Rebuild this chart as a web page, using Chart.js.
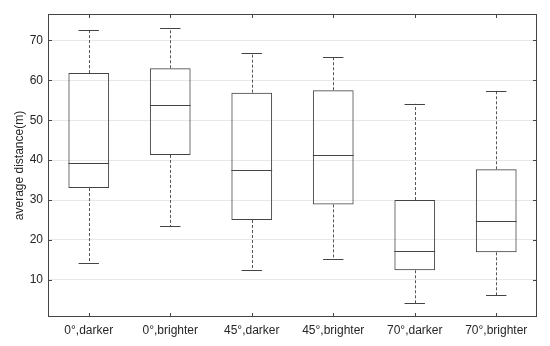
<!DOCTYPE html>
<html>
<head>
<meta charset="utf-8">
<script src="https://cdn.jsdelivr.net/npm/chart.js@4.4.0/dist/chart.umd.min.js"></script>
<style>
  html, body { margin: 0; padding: 0; background: #fff; }
  #wrap { width: 550px; height: 346px; }
</style>
</head>
<body>
<div id="wrap"><canvas id="boxChart"></canvas></div>
<script>
// data
const categories = ['0°,darker', '0°,brighter', '45°,darker', '45°,brighter', '70°,darker', '70°,brighter'];
const whiskerLow = [14.2, 23.4, 12.4, 15.2, 4.2, 6.2];
const q1 = [33.0, 41.3, 25.0, 28.9, 12.4, 16.9];
const median = [39.4, 53.8, 37.4, 41.4, 17.2, 24.8];
const q3 = [61.8, 63.0, 56.9, 57.5, 30.0, 37.7];
const whiskerHigh = [72.5, 73.0, 66.8, 65.8, 54.1, 57.4];
const yTicks = [10, 20, 30, 40, 50, 60, 70];

const boxes = categories.map((c, i) => [q1[i], q3[i]]);

// whiskers, caps, medians, frame and inward ticks
const boxPlugin = {
    id: 'boxExtras',
    afterDatasetsDraw(chart) {
        const ctx = chart.ctx;
        const x = chart.scales.x;
        const y = chart.scales.y;
        const meta = chart.getDatasetMeta(0);
        ctx.save();
        meta.data.forEach((bar, i) => {
            const cx = bar.x;
            const w = bar.width;
            const yTop = y.getPixelForValue(q3[i]);
            const yBot = y.getPixelForValue(q1[i]);
            const yHi = y.getPixelForValue(whiskerHigh[i]);
            const yLo = y.getPixelForValue(whiskerLow[i]);
            const yMed = y.getPixelForValue(median[i]);

            // dashed whiskers
            ctx.strokeStyle = '#555';
            ctx.lineWidth = 1;
            ctx.setLineDash([3, 2]);
            ctx.beginPath();
            ctx.moveTo(Math.round(cx) + 0.5, yTop);
            ctx.lineTo(Math.round(cx) + 0.5, yHi);
            ctx.moveTo(Math.round(cx) + 0.5, yBot);
            ctx.lineTo(Math.round(cx) + 0.5, yLo);
            ctx.stroke();

            // caps
            ctx.setLineDash([]);
            ctx.strokeStyle = '#444';
            ctx.beginPath();
            ctx.moveTo(cx - w / 4, Math.round(yHi) + 0.5);
            ctx.lineTo(cx + w / 4, Math.round(yHi) + 0.5);
            ctx.moveTo(cx - w / 4, Math.round(yLo) + 0.5);
            ctx.lineTo(cx + w / 4, Math.round(yLo) + 0.5);
            ctx.stroke();

            // median
            ctx.strokeStyle = '#444';
            ctx.beginPath();
            ctx.moveTo(cx - w / 2, Math.round(yMed) + 0.5);
            ctx.lineTo(cx + w / 2, Math.round(yMed) + 0.5);
            ctx.stroke();
        });

        // frame
        const a = chart.chartArea;
        ctx.strokeStyle = '#444';
        ctx.lineWidth = 1;
        ctx.strokeRect(Math.round(a.left) + 0.5, Math.round(a.top) + 0.5,
            Math.round(a.right - a.left) - 1, Math.round(a.bottom - a.top) - 1);

        // inward ticks
        ctx.beginPath();
        categories.forEach((c, i) => {
            const px = Math.round(x.getPixelForValue(i)) + 0.5;
            ctx.moveTo(px, a.bottom);
            ctx.lineTo(px, a.bottom - 4);
            ctx.moveTo(px, a.top);
            ctx.lineTo(px, a.top + 4);
        });
        yTicks.forEach(v => {
            const py = Math.round(y.getPixelForValue(v)) + 0.5;
            ctx.moveTo(a.left, py);
            ctx.lineTo(a.left + 4, py);
            ctx.moveTo(a.right, py);
            ctx.lineTo(a.right - 4, py);
        });
        ctx.stroke();
        ctx.restore();
    }
};

document.addEventListener('DOMContentLoaded', function () {
    let ctx = document.getElementById('boxChart').getContext('2d');
    new Chart(ctx, {
        type: 'bar',
        data: {
            labels: categories,
            datasets: [{
                data: boxes,
                backgroundColor: 'rgba(255,255,255,0)',
                borderColor: '#444',
                borderWidth: 1,
                borderSkipped: false,
                barPercentage: 0.5,
                categoryPercentage: 1
            }]
        },
        options: {
            responsive: true,
            maintainAspectRatio: false,
            animation: false,
            layout: { padding: { top: 14, right: 13, left: 0, bottom: 0 } },
            plugins: {
                legend: { display: false },
                tooltip: { enabled: false }
            },
            scales: {
                x: {
                    offset: true,
                    grid: { display: false, drawTicks: false },
                    border: { display: false },
                    ticks: {
                        color: '#262626',
                        padding: 6,
                        font: { family: 'Liberation Sans, Arial, sans-serif', size: 12 }
                    },
                    afterFit: s => { s.height = 29; }
                },
                y: {
                    min: 0.7,
                    max: 76.6,
                    afterBuildTicks: s => { s.ticks = yTicks.map(v => ({ value: v })); },
                    grid: { color: '#e8e8e8', drawTicks: false },
                    border: { display: false },
                    ticks: {
                        color: '#262626',
                        padding: 5,
                        font: { family: 'Liberation Sans, Arial, sans-serif', size: 12 }
                    },
                    title: {
                        display: true,
                        text: 'average distance(m)',
                        color: '#262626',
                        padding: { top: 12, bottom: 0 },
                        font: { family: 'Liberation Sans, Arial, sans-serif', size: 12 }
                    },
                    afterFit: s => { s.width = 48; }
                }
            }
        },
        plugins: [boxPlugin]
    });
});
</script>
</body>
</html>
